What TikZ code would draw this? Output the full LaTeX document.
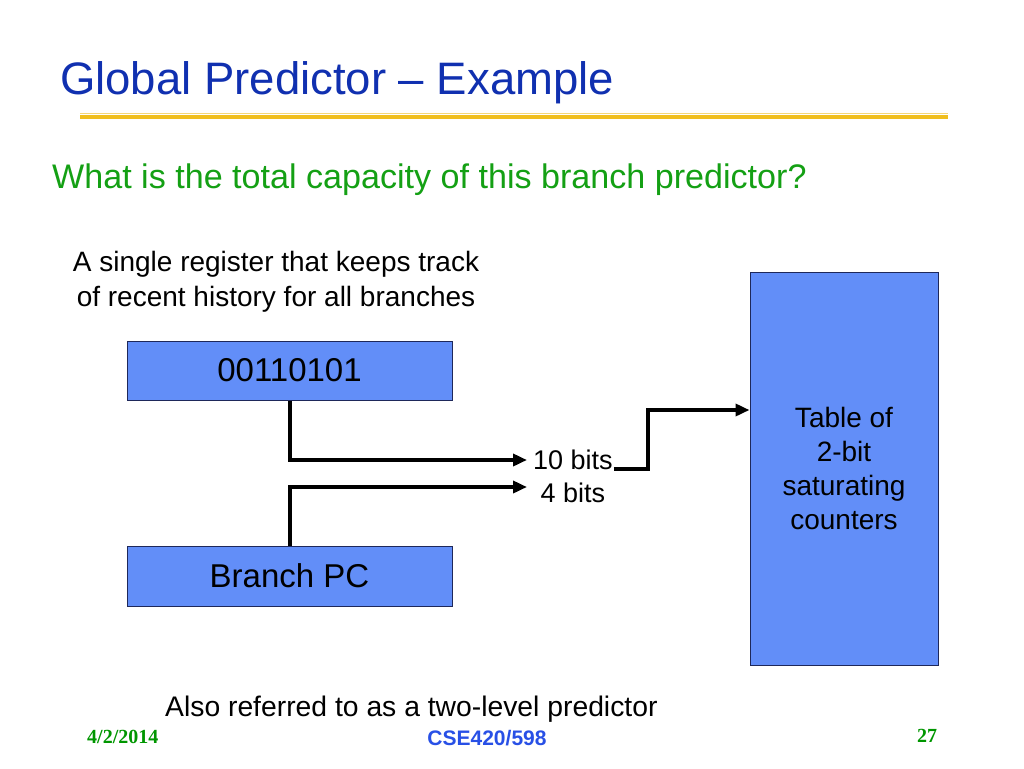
\documentclass[tikz,border=0pt]{standalone}
\usepackage{fontspec}
\setmainfont{Liberation Sans}
\newfontfamily\footserif{Liberation Serif}
\usetikzlibrary{arrows.meta}
\definecolor{boxblue}{RGB}{98,142,248}
\definecolor{boxline}{RGB}{30,40,90}
\definecolor{titleblue}{RGB}{16,48,176}
\definecolor{qgreen}{RGB}{20,160,20}
\definecolor{goldrule}{RGB}{240,190,30}
\definecolor{goldlight}{RGB}{245,215,120}
\definecolor{footblue}{RGB}{40,80,230}
\definecolor{footgreen}{RGB}{0,150,0}
\tikzset{
  blockbox/.style={draw=boxline, line width=1pt, fill=boxblue, inner sep=0pt,
    font=\fontsize{33}{40}\selectfont},
  lbl/.style={inner sep=0pt, font=\fontsize{27}{34}\selectfont},
  conn/.style={line width=4pt, -{Triangle[length=14pt,width=12pt]}},
  footfont/.style={inner sep=0pt, text=footgreen, font=\footserif\bfseries\fontsize{20}{24}\selectfont},
}
\begin{document}
\begin{tikzpicture}[x=1pt,y=-1pt]
\useasboundingbox (0,0) rectangle (1024,768);
\fill[white] (0,0) rectangle (1024,768);

% title and rule
\node[anchor=base west, inner sep=0pt, text=titleblue, font=\fontsize{45.5}{54}\selectfont] (title) at (60,94) {Global Predictor – Example};
\coordinate (r1) at (80,117);
\coordinate (r2) at (948,117);
\draw[goldlight, line width=1pt] ([yshift=4pt]r1) -- ([yshift=4pt]r2);
\draw[goldrule, line width=4pt] (r1) -- (r2);

% question
\node[anchor=base west, inner sep=0pt, text=qgreen, font=\fontsize{34.1}{40}\selectfont] (q) at (52,188) {What is the total capacity of this branch predictor?};

% annotation
\node[anchor=base, inner sep=0pt, font=\fontsize{28}{35}\selectfont] (ann1) at (276,271) {A single register that keeps track};
\node[anchor=base, inner sep=0pt, font=\fontsize{28}{35}\selectfont] (ann2) at (276,306) {of recent history for all branches};

% boxes
\node[blockbox, minimum width=325pt, minimum height=59pt] (hist) at (289.5,370.5) {00110101};
\node[blockbox, minimum width=325pt, minimum height=60pt] (pc) at (289.5,576) {Branch PC};
\node[blockbox, minimum width=188pt, minimum height=393pt, align=center,
      font=\fontsize{28}{34}\selectfont] (tab) at (844,468.5) {Table of\\2-bit\\saturating\\counters};

% labels
\node[lbl, anchor=base west] (b10) at (533,469) {10 bits};
\node[lbl, anchor=base] (b4) at (573,502) {4 bits};
\coordinate (a10) at (527,460);
\coordinate (a4) at (527,487);

% connectors
\draw[conn] (hist.south) |- (a10);
\draw[conn] (pc.north) |- (a4);
\draw[conn] ([xshift=1pt]b10.base east) -- ++(34,0) |- ([yshift=58.5pt]tab.west);

% bottom note
\node[anchor=base west, inner sep=0pt, font=\fontsize{28.3}{34}\selectfont] (note) at (165,716) {Also referred to as a two-level predictor};

% footer
\node[footfont, anchor=base west] (date) at (87,743) {4/2/2014};
\node[anchor=base, inner sep=0pt, text=footblue, font=\bfseries\fontsize{21}{24}\selectfont] (course) at (487,745) {CSE420/598};
\node[footfont, anchor=base west] (page) at (917,742) {27};
\end{tikzpicture}
\end{document}
